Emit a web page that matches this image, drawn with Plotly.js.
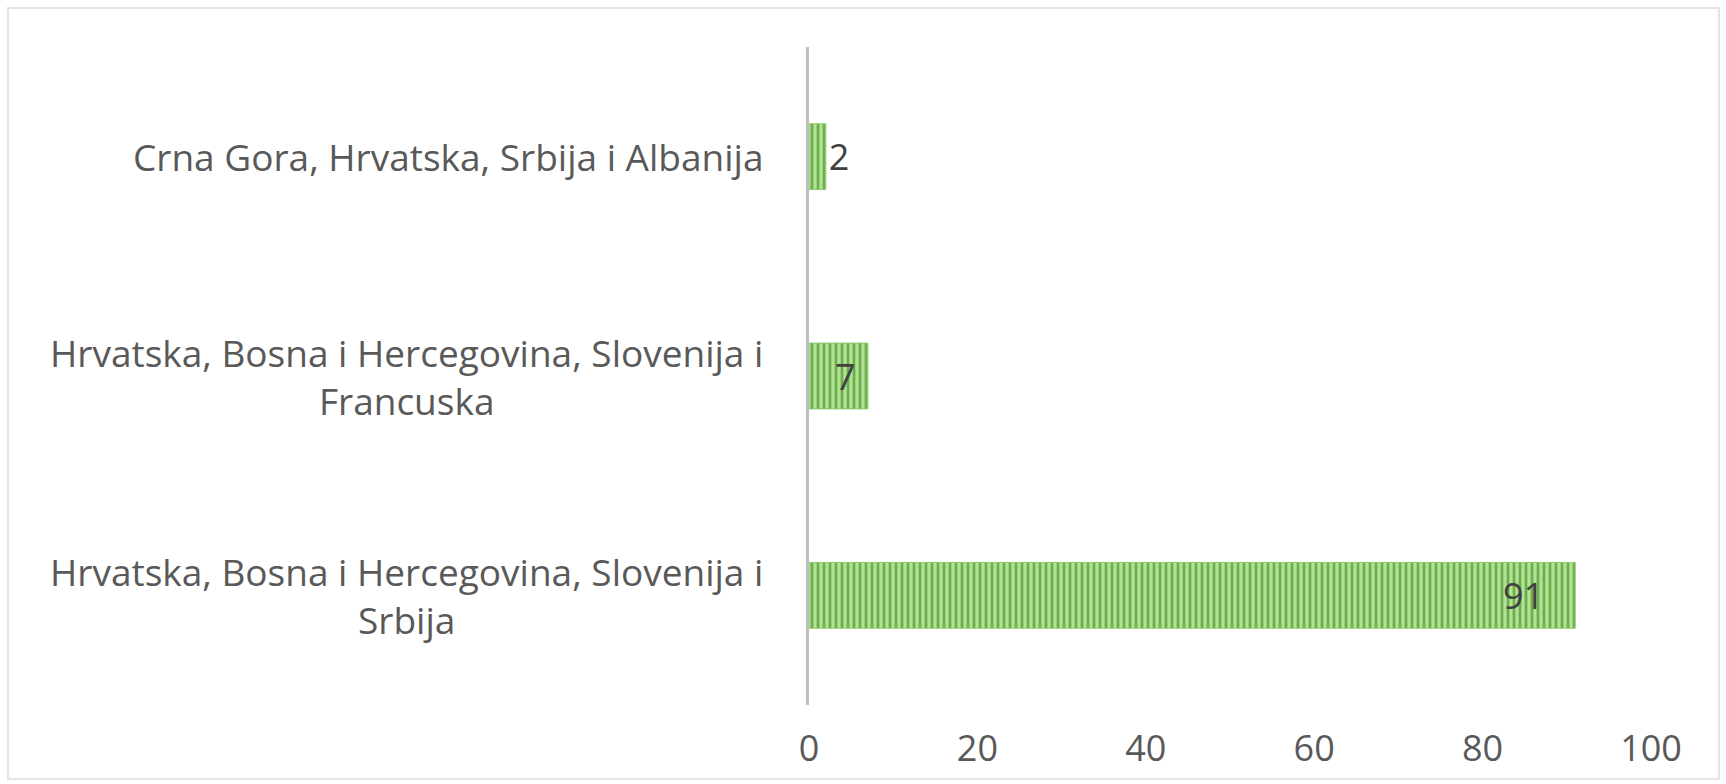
<!DOCTYPE html>
<html>
<head>
<meta charset="utf-8">
<script src="https://cdn.plot.ly/plotly-3.0.1.min.js"></script>
<style>
  html, body { margin: 0; padding: 0; background: #ffffff; }
  #wrap { position: relative; width: 1726px; height: 784px; }
  #chart { position: absolute; left: 0; top: 0; width: 1726px; height: 784px; }
  #frame { position: absolute; left: 7px; top: 7px; width: 1709px; height: 769px;
           border: 2px solid #e4e4e4; pointer-events: none; }
</style>
</head>
<body>
<div id="wrap">
  <div id="chart"></div>
  <div id="frame"></div>
</div>
<script>
// Data (bottom to top, as drawn on the category axis)
const categories = [
  "Hrvatska, Bosna i Hercegovina, Slovenija i Srbija",
  "Hrvatska, Bosna i Hercegovina, Slovenija i Francuska",
  "Crna Gora, Hrvatska, Srbija i Albanija"
];
const categoryLabels = [
  "Hrvatska, Bosna i Hercegovina, Slovenija i<br>Srbija",
  "Hrvatska, Bosna i Hercegovina, Slovenija i<br>Francuska",
  "Crna Gora, Hrvatska, Srbija i Albanija"
];
const values = [91, 7, 2];
const labelPositions = ["inside", "inside", "outside"];
const xTicks = [0, 20, 40, 60, 80, 100];

const textColor = "#595959";
const fontFamily = "'Open Sans', sans-serif";
const fontSize = 37;

const trace = {
  type: "bar",
  orientation: "h",
  x: values,
  y: categories,
  text: values.map(v => String(v)),
  texttemplate: ["%{text}\u00a0\u00a0\u00a0", "%{text}\u00a0", "%{text}"],
  textposition: labelPositions,
  insidetextanchor: "end",
  constraintext: "none",
  cliponaxis: false,
  textfont: { family: fontFamily, size: 36, color: "#404040" },
  marker: {
    color: "#a9dc8c",
    pattern: { shape: "|", size: 6, solidity: 0.45, fgcolor: "#6cae48", bgcolor: "#b2e198", fgopacity: 1 },
    line: { color: "#8cc96c", width: 1 }
  },
  hoverinfo: "none"
};

const annotations = categories.map((c, i) => ({
  xref: "paper", yref: "y",
  x: 0, y: c,
  xanchor: "right", yanchor: "middle",
  xshift: -44,
  align: "center",
  text: categoryLabels[i],
  showarrow: false,
  font: { family: fontFamily, size: fontSize, color: textColor }
}));

const layout = {
  width: 1726, height: 784,
  paper_bgcolor: "#ffffff",
  plot_bgcolor: "#ffffff",
  margin: { l: 809, r: 75, t: 47, b: 79 },
  bargap: 0.7,
  showlegend: false,
  font: { family: fontFamily, color: textColor },
  xaxis: {
    range: [0, 100],
    tickmode: "array",
    tickvals: xTicks,
    ticktext: xTicks.map(String),
    showgrid: false,
    zeroline: false,
    showline: false,
    ticks: "outside",
    ticklen: 12,
    tickcolor: "rgba(0,0,0,0)",
    tickfont: { family: fontFamily, size: 36, color: textColor },
    fixedrange: true
  },
  yaxis: {
    type: "category",
    categoryorder: "array",
    categoryarray: categories,
    showticklabels: false,
    showgrid: false,
    zeroline: false,
    showline: true,
    linecolor: "#bfbfbf",
    linewidth: 3,
    ticks: "",
    fixedrange: true
  },
  annotations: annotations
};

Plotly.newPlot("chart", [trace], layout, { displayModeBar: false, staticPlot: true });
</script>
</body>
</html>
